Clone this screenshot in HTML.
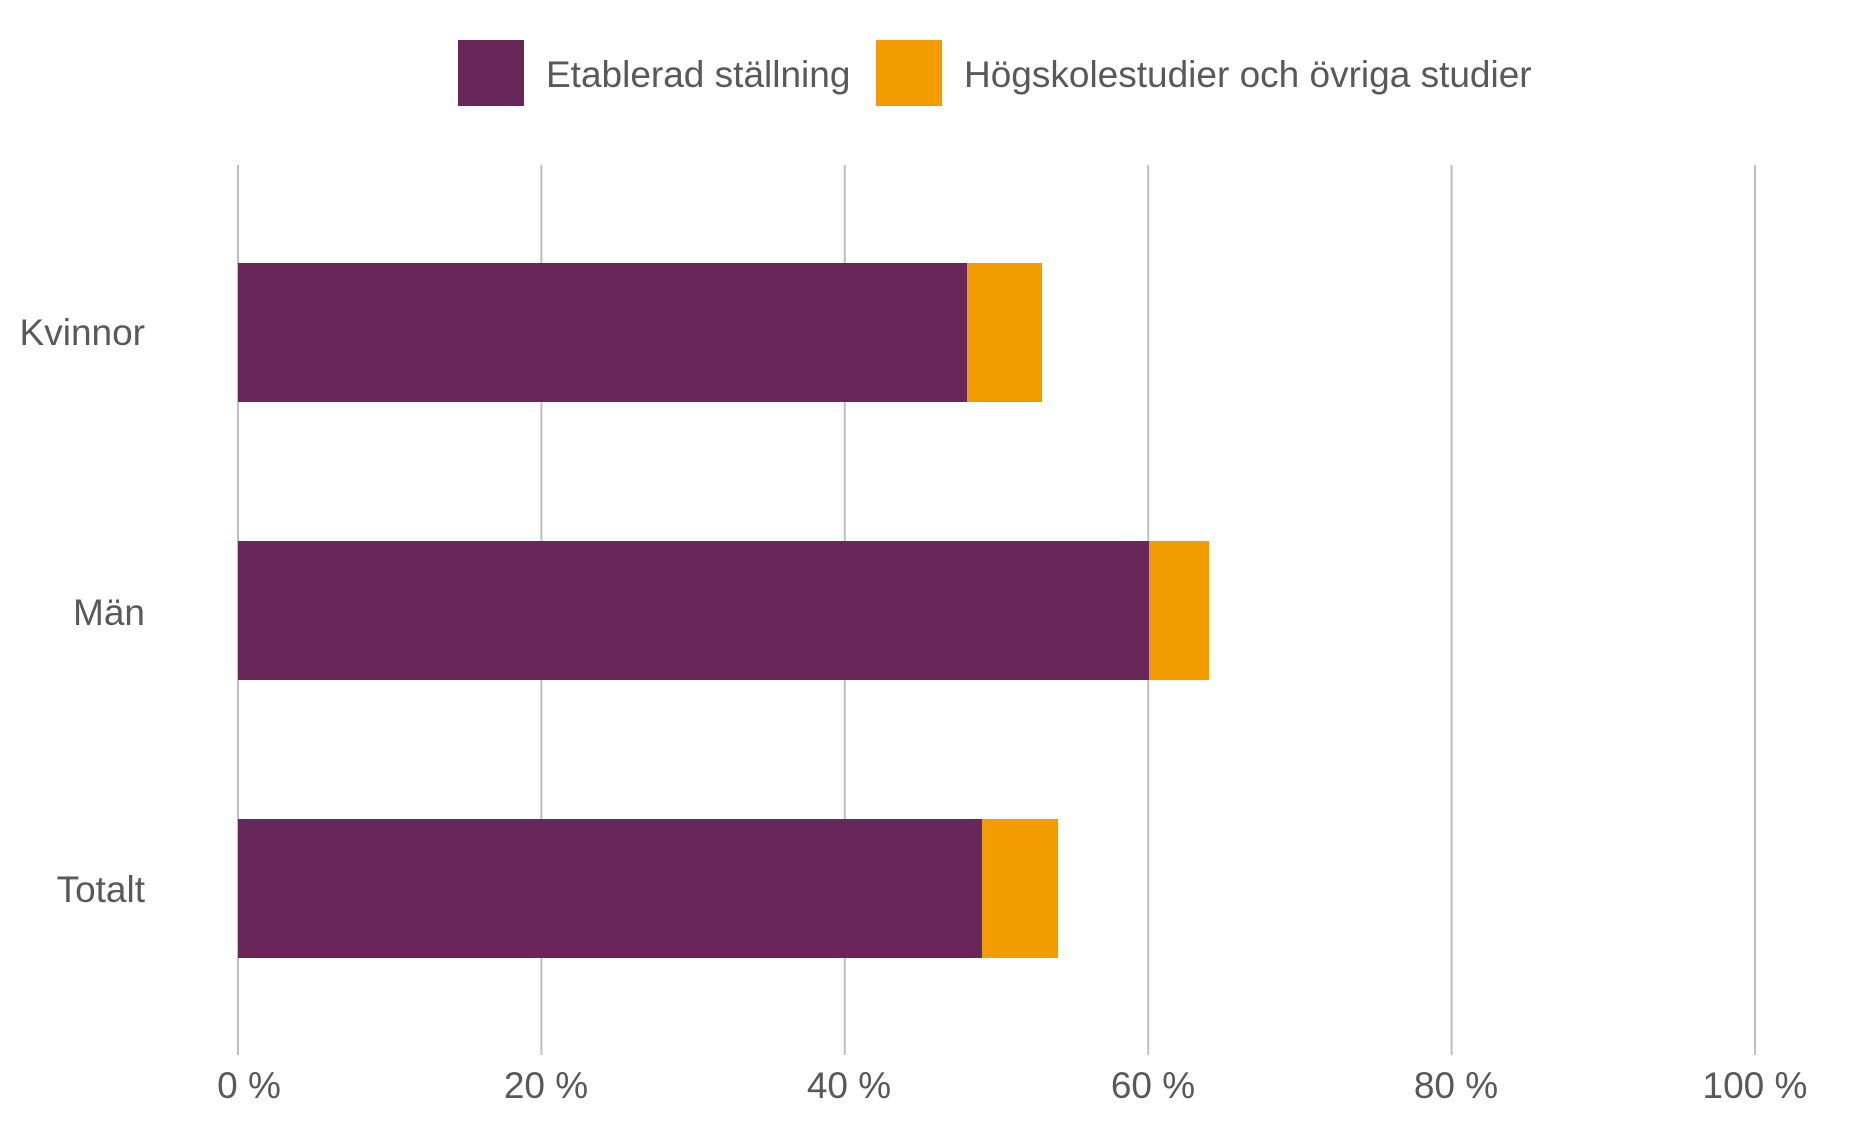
<!DOCTYPE html>
<html><head><meta charset="utf-8"><style>
html,body{margin:0;padding:0;background:#fff;}
svg{display:block;}
text{font-family:"Liberation Sans",Arial,sans-serif;font-size:37px;fill:#595959;}
</style></head><body>
<svg width="1850" height="1125" viewBox="0 0 1850 1125" xmlns="http://www.w3.org/2000/svg">
<rect x="458" y="40" width="66" height="66" fill="#682758"/>
<text x="546" y="87">Etablerad ställning</text>
<rect x="876" y="40" width="66" height="66" fill="#f39c00"/>
<text x="964" y="87">Högskolestudier och övriga studier</text>
<g stroke="#bfbfbf" stroke-width="2">
<line x1="238" y1="165" x2="238" y2="1055"/>
<line x1="541.4" y1="165" x2="541.4" y2="1055"/>
<line x1="844.8" y1="165" x2="844.8" y2="1055"/>
<line x1="1148.2" y1="165" x2="1148.2" y2="1055"/>
<line x1="1451.6" y1="165" x2="1451.6" y2="1055"/>
<line x1="1755" y1="165" x2="1755" y2="1055"/>
</g>
<rect x="238" y="263" width="729" height="139" fill="#682758"/>
<rect x="967" y="263" width="75" height="139" fill="#f39c00"/>
<rect x="238" y="541" width="911" height="139" fill="#682758"/>
<rect x="1149" y="541" width="60" height="139" fill="#f39c00"/>
<rect x="238" y="819" width="744" height="139" fill="#682758"/>
<rect x="982" y="819" width="76" height="139" fill="#f39c00"/>
<g text-anchor="end">
<text x="145" y="345">Kvinnor</text>
<text x="145" y="625">Män</text>
<text x="145" y="902">Totalt</text>
</g>
<g text-anchor="middle">
<text x="249" y="1098">0 %</text>
<text x="546" y="1098">20 %</text>
<text x="849" y="1098">40 %</text>
<text x="1153" y="1098">60 %</text>
<text x="1456" y="1098">80 %</text>
<text x="1755" y="1098">100 %</text>
</g>
</svg>
</body></html>
